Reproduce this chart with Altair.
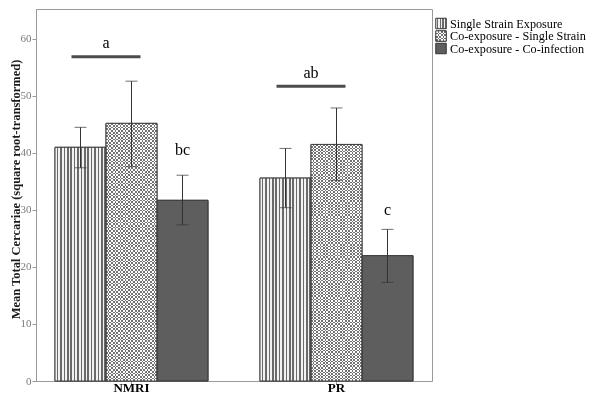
import altair as alt
import pandas as pd

# ---- data ----
groups = ["NMRI", "PR"]
series = ["Single Strain Exposure", "Co-exposure - Single Strain", "Co-exposure - Co-infection"]
means = {"NMRI": [41.0, 45.2, 31.7], "PR": [35.6, 41.5, 22.0]}
upper = {"NMRI": [44.5, 52.6, 36.1], "PR": [40.8, 47.9, 26.6]}
lower = {"NMRI": [37.4, 37.6, 27.4], "PR": [30.4, 35.2, 17.3]}
y_ticks = [0, 10, 20, 30, 40, 50, 60]

# significance bars (spanning first two bars of each group)
sig_groups = ["NMRI", "PR"]
sig_letters = ["a", "ab"]
sig_text_y = [58.5, 53.1]
sig_line_y = [56.9, 51.7]
# single letters above third bar
one_groups = ["NMRI", "PR"]
one_series = ["Co-exposure - Co-infection", "Co-exposure - Co-infection"]
one_letters = ["bc", "c"]
one_y = [39.6, 29.2]

rows = []
for g in groups:
    for i, s in enumerate(series):
        rows.append({"group": g, "series": s, "mean": means[g][i],
                     "hi": upper[g][i], "lo": lower[g][i]})
df = pd.DataFrame(rows)
sig_df = pd.DataFrame({"group": sig_groups, "letter": sig_letters,
                       "ty": sig_text_y, "ly": sig_line_y})
one_df = pd.DataFrame({"group": one_groups, "series": one_series,
                       "letter": one_letters, "y": one_y})
leg_df = pd.DataFrame({"series": series})

FONT = "Liberation Serif"


def stripes(n, c1, c2, vertical=True, frac=0.5):
    stops = []
    for k in range(n):
        a = k / n
        b = (k + frac) / n
        c = (k + 1) / n
        stops += [{"offset": a, "color": c1}, {"offset": b, "color": c1},
                  {"offset": b, "color": c2}, {"offset": c, "color": c2}]
    return {"gradient": "linear", "x1": 0, "y1": 0,
            "x2": 1 if vertical else 0, "y2": 0 if vertical else 1,
            "stops": stops}


x_enc = alt.X("group:N", scale=alt.Scale(domain=groups, paddingInner=0.2537, paddingOuter=0.0927),
              axis=alt.Axis(title=None, labelAngle=0, labelFontWeight="bold", labelFontSize=13,
                            labelColor="#000000", tickSize=3, labelPadding=7,
                            labelBaseline="alphabetic", labelFont=FONT))
xo_enc = alt.XOffset("series:N", scale=alt.Scale(domain=series, paddingInner=0, paddingOuter=0))
y_scale = alt.Scale(domain=[0, 65.26], nice=False, zero=True)
y_enc = alt.Y("mean:Q", scale=y_scale,
              axis=alt.Axis(values=y_ticks, title="Mean Total Cercariae (square root-transformed)",
                            titleFontWeight="bold", titleFontSize=12.5, titleColor="#1a1a1a",
                            titleX=-17, titleY=180, titleBaseline="alphabetic", titleAngle=270,
                            titleAlign="center",
                            labelColor="#7a7a7a", labelFontSize=11, tickSize=4, labelPadding=1,
                            labelFont=FONT, titleFont=FONT))

base = alt.Chart(df)

bars = base.mark_bar(stroke="#404040", strokeWidth=1).encode(
    x=x_enc, xOffset=xo_enc, y=y_enc,
    color=alt.Color("series:N",
                    scale=alt.Scale(domain=series, range=["#b4b4b4", "#c6c6c6", "#5e5e5e"]),
                    legend=None),
)

s1 = base.transform_filter(alt.datum.series == series[0]).mark_bar(
    fill=stripes(15, "#f2f2f2", "#6a6a6a", True, 0.52)
).encode(x=x_enc, xOffset=xo_enc, y=y_enc)

s2a = base.transform_filter(alt.datum.series == series[1]).mark_bar(
    fill=stripes(15, "#ffffff", "#000000", True, 0.5)
).encode(x=x_enc, xOffset=xo_enc, y=y_enc)

s2b = base.transform_filter(alt.datum.series == series[1]).mark_bar(
    fill=stripes(76, "#000000", "#ffffff", False, 0.5), blend="difference"
).encode(x=x_enc, xOffset=xo_enc, y=y_enc)

s2c = base.transform_filter(alt.datum.series == series[1]).mark_bar(
    fill="#ffffff", fillOpacity=0.45
).encode(x=x_enc, xOffset=xo_enc, y=y_enc)

outline = base.mark_bar(fill="#ffffff", fillOpacity=0, stroke="#404040", strokeWidth=1).encode(
    x=x_enc, xOffset=xo_enc, y=y_enc)

err = base.mark_rule(color="#333333", strokeWidth=1).encode(
    x=x_enc, xOffset=xo_enc, y=alt.Y("lo:Q", scale=y_scale), y2="hi:Q")
cap_hi = base.mark_tick(orient="horizontal", size=12, thickness=1, color="#333333").encode(
    x=x_enc, xOffset=xo_enc, y=alt.Y("hi:Q", scale=y_scale))
cap_lo = base.mark_tick(orient="horizontal", size=12, thickness=1, color="#333333").encode(
    x=x_enc, xOffset=xo_enc, y=alt.Y("lo:Q", scale=y_scale))

sig_base = alt.Chart(sig_df)
sig_line = sig_base.mark_tick(orient="horizontal", size=69, thickness=3, color="#000000",
                              xOffset=-25.5).encode(
    x=x_enc, y=alt.Y("ly:Q", scale=y_scale))
sig_text = sig_base.mark_text(dx=-25.5, font=FONT, fontSize=16, color="#000000",
                              baseline="alphabetic", align="center").encode(
    x=x_enc, y=alt.Y("ty:Q", scale=y_scale), text="letter:N")

one_text = alt.Chart(one_df).mark_text(font=FONT, fontSize=16, color="#000000",
                                       baseline="alphabetic", align="center").encode(
    x=x_enc, xOffset=xo_enc, y=alt.Y("y:Q", scale=y_scale), text="letter:N")

main = alt.layer(bars, s1, s2a, s2b, s2c, outline, err, cap_hi, cap_lo,
                 sig_line, sig_text, one_text)

# ---- hand-built legend with patterned swatches ----
leg_y = alt.Y("series:N", scale=alt.Scale(type="point", domain=series, range=[14.5, 39.5], padding=0),
              axis=None)
leg_base = alt.Chart(leg_df)
SW = 110
sw_x = alt.value(405)
sw1 = leg_base.transform_filter(alt.datum.series == series[0]).mark_square(
    size=SW, fill=stripes(4, "#f2f2f2", "#6a6a6a", True, 0.5), opacity=1, strokeWidth=0
).encode(x=sw_x, y=leg_y)
sw2a = leg_base.transform_filter(alt.datum.series == series[1]).mark_square(
    size=SW, fill=stripes(3, "#ffffff", "#000000", True, 0.5), opacity=1, strokeWidth=0
).encode(x=sw_x, y=leg_y)
sw2b = leg_base.transform_filter(alt.datum.series == series[1]).mark_square(
    size=SW, fill=stripes(3, "#000000", "#ffffff", False, 0.5), opacity=1, strokeWidth=0,
    blend="difference"
).encode(x=sw_x, y=leg_y)
sw2c = leg_base.transform_filter(alt.datum.series == series[1]).mark_square(
    size=SW, fill="#ffffff", fillOpacity=0.45, opacity=1, strokeWidth=0
).encode(x=sw_x, y=leg_y)
sw3 = leg_base.transform_filter(alt.datum.series == series[2]).mark_square(
    size=SW, fill="#5e5e5e", opacity=1, strokeWidth=0
).encode(x=sw_x, y=leg_y)
sw_out = leg_base.mark_square(size=SW, fill="#ffffff", fillOpacity=0, opacity=1,
                              stroke="#333333", strokeWidth=1).encode(x=sw_x, y=leg_y)
leg_text = leg_base.mark_text(align="left", baseline="middle", font=FONT, fontSize=12.2,
                              color="#000000").encode(x=alt.value(414), y=leg_y, text="series:N")
legend = alt.layer(sw1, sw2a, sw2b, sw2c, sw3, sw_out, leg_text)

chart = alt.layer(main, legend).resolve_scale(y="independent").properties(
    width=396, height=372,
    autosize=alt.AutoSizeParams(type="none"),
    padding={"left": 28, "top": 1, "right": 160, "bottom": 13},
    background="#ffffff",
).configure_view(stroke="#9a9a9a", strokeWidth=1).configure_axis(
    domainColor="#9a9a9a", tickColor="#9a9a9a", grid=False,
    labelFont=FONT, titleFont=FONT)

chart.save("out.html", embed_options={"renderer": "svg", "actions": False})
